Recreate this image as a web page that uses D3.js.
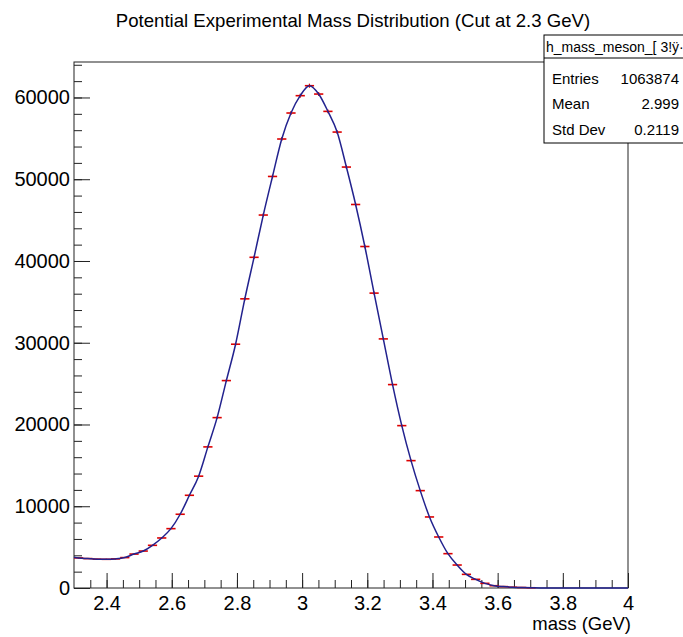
<!DOCTYPE html>
<html lang="en">
<head>
<meta charset="UTF-8"/>
<title>Potential Experimental Mass Distribution</title>
<script src="https://d3js.org/d3.v7.min.js"></script>
<style>
	body { margin: 0; background: #fff; }
	text { font-family: "Liberation Sans", Arial, sans-serif; }
</style>
</head>
<body>
<script>
	var w = 683;
	var h = 637;

	// histogram h_mass_meson: 60 bins from 2.3 to 4.0 GeV
	var binLow = 2.3;
	var binHigh = 4.0;
	var nBins = 60;
	var counts = [
		3680, 3600, 3530, 3510, 3560, 3720, 4150, 4520, 5220, 6120,
		7260, 9020, 11340, 13680, 17260, 20840, 25370, 29820, 35370, 40450,
		45620, 50340, 54920, 58100, 60220, 61440, 60420, 58300, 55770, 51490,
		46910, 41770, 36070, 30470, 24880, 19860, 15580, 11910, 8690, 6240,
		4200, 2810, 1670, 1060, 570, 280, 170, 100, 60, 30,
		0, 0, 0, 0, 0, 0, 0, 0, 0, 0
	];
	// fit function value at the two ends of the axis
	var fitEdges = [3760, 0];

	var xTickLabels = [2.4, 2.6, 2.8, 3, 3.2, 3.4, 3.6, 3.8, 4];
	var yTickLabels = [0, 10000, 20000, 30000, 40000, 50000, 60000];
	var statsNames = ["Entries", "Mean", "Std Dev"];
	var statsValues = ["1063874", "2.999", "0.2119"];
	var histName = "h_mass_meson_[ 3!\u00ff\u00b7";
	var title = "Potential Experimental Mass Distribution (Cut at 2.3 GeV)";
	var xTitle = "mass (GeV)";

	// frame edges (window.top is read-only, so no "top" here)
	var frameL = 74, frameR = 628, frameT = 62, frameB = 588;
	var binW = (binHigh - binLow) / nBins;

	var bins = counts.map(function(c, i) {
		return { lo: binLow + i * binW, hi: binLow + (i + 1) * binW, x: binLow + (i + 0.5) * binW, y: c };
	});

	var xScale = d3.scaleLinear().domain([binLow, binHigh]).range([frameL, frameR]);
	var yScale = d3.scaleLinear().domain([0, 64340]).range([frameB, frameT]);

	var svg = d3.select("body").append("svg")
		.attr("width", w)
		.attr("height", h);

	svg.append("rect").attr("width", w).attr("height", h).attr("fill", "#fff");

	// title
	svg.append("text")
		.attr("x", 353)
		.attr("y", 27)
		.attr("text-anchor", "middle")
		.style("font-size", "18.6px")
		.text(title);

	// frame
	svg.append("rect")
		.attr("x", frameL).attr("y", frameT)
		.attr("width", frameR - frameL).attr("height", frameB - frameT)
		.attr("fill", "none")
		.attr("stroke", "#222")
		.attr("stroke-width", 1);

	// x axis, ticks point inwards like ROOT
	var xMinor = d3.range(2.35, 3.99, 0.05);
	svg.append("g")
		.attr("transform", "translate(0," + frameB + ")")
		.call(d3.axisBottom(xScale).tickValues(xMinor).tickSize(-8).tickFormat(""))
		.call(function(g) { g.select(".domain").remove(); });

	svg.append("g")
		.attr("transform", "translate(0," + frameB + ")")
		.call(d3.axisBottom(xScale).tickValues(xTickLabels).tickSize(-15).tickPadding(8).tickFormat(d3.format("")))
		.call(function(g) {
			g.select(".domain").remove();
			g.selectAll("text").style("font-size", "20px").attr("fill", "#000");
		});

	// y axis
	var yMinor = d3.range(0, 64001, 2000);
	svg.append("g")
		.attr("transform", "translate(" + frameL + ",0)")
		.call(d3.axisLeft(yScale).tickValues(yMinor).tickSize(-8).tickFormat(""))
		.call(function(g) { g.select(".domain").remove(); });

	svg.append("g")
		.attr("transform", "translate(" + frameL + ",0)")
		.call(d3.axisLeft(yScale).tickValues(yTickLabels).tickSize(-16).tickPadding(4).tickFormat(d3.format("")))
		.call(function(g) {
			g.select(".domain").remove();
			g.selectAll("text").style("font-size", "20px").attr("fill", "#000");
		});

	svg.selectAll(".tick line").attr("stroke", "#222");

	svg.append("text")
		.attr("x", 631)
		.attr("y", 630)
		.attr("text-anchor", "end")
		.style("font-size", "18.5px")
		.text(xTitle);

	// error bars
	var filled = bins.filter(function(d) { return d.y > 0; });
	var eb = svg.append("g").attr("stroke", "#dd0000");
	eb.selectAll("line.hbar")
		.data(filled)
		.enter()
		.append("line")
		.attr("class", "hbar")
		.attr("x1", function(d) { return xScale(d.lo); })
		.attr("x2", function(d) { return xScale(d.hi); })
		.attr("y1", function(d) { return yScale(d.y); })
		.attr("y2", function(d) { return yScale(d.y); })
		.attr("stroke-width", 1.6);
	eb.selectAll("line.vbar")
		.data(filled)
		.enter()
		.append("line")
		.attr("class", "vbar")
		.attr("x1", function(d) { return xScale(d.x); })
		.attr("x2", function(d) { return xScale(d.x); })
		.attr("y1", function(d) { return yScale(d.y + Math.sqrt(d.y)); })
		.attr("y2", function(d) { return yScale(d.y - Math.sqrt(d.y)); })
		.attr("stroke-width", 1.2);

	// fit curve
	var fitPts = [[binLow, fitEdges[0]]]
		.concat(bins.map(function(d) { return [d.x, d.y]; }))
		.concat([[binHigh, fitEdges[1]]]);
	var fitLine = d3.line()
		.x(function(d) { return xScale(d[0]); })
		.y(function(d) { return yScale(d[1]); })
		.curve(d3.curveMonotoneX);
	svg.append("path")
		.datum(fitPts)
		.attr("d", fitLine)
		.attr("fill", "none")
		.attr("stroke", "#22228e")
		.attr("stroke-width", 1.5);

	// stats box
	var sx = 544, sy = 35;
	var stats = svg.append("g");
	stats.append("rect")
		.attr("x", sx).attr("y", sy)
		.attr("width", 160).attr("height", 108)
		.attr("fill", "#fff")
		.attr("stroke", "#000")
		.attr("stroke-width", 1);
	stats.append("line")
		.attr("x1", sx).attr("x2", sx + 160)
		.attr("y1", sy + 23).attr("y2", sy + 23)
		.attr("stroke", "#000");
	stats.append("text")
		.attr("x", sx + 2)
		.attr("y", sy + 17)
		.style("font-size", "14px")
		.text(histName);
	var rowY = [84, 109, 135];
	stats.selectAll("text.sname")
		.data(statsNames)
		.enter()
		.append("text")
		.attr("class", "sname")
		.attr("x", 552)
		.attr("y", function(d, i) { return rowY[i]; })
		.style("font-size", "15px")
		.text(function(d) { return d; });
	stats.selectAll("text.sval")
		.data(statsValues)
		.enter()
		.append("text")
		.attr("class", "sval")
		.attr("x", 679)
		.attr("y", function(d, i) { return rowY[i]; })
		.attr("text-anchor", "end")
		.style("font-size", "15px")
		.text(function(d) { return d; });
</script>
</body>
</html>
